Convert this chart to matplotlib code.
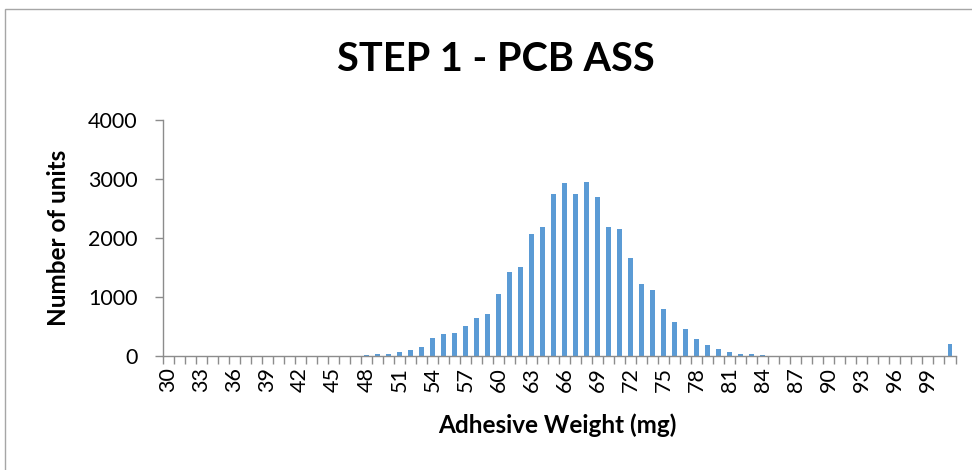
import matplotlib
matplotlib.use("Agg")
import matplotlib.pyplot as plt
from matplotlib.patches import Rectangle

plt.rcParams['font.family'] = ['Lato', 'DejaVu Sans']

# ---- data ----
categories = [str(v) for v in range(30, 102)]
counts = [0] * 16 + [  # 30..45
    2, 8, 12, 28, 35, 65, 110, 145,            # 46..53
    300, 373, 384, 508, 650, 718, 1051, 1424,  # 54..61
    1514, 2074, 2192, 2752, 2932, 2746, 2949,  # 62..68
    2695, 2181, 2147, 1667, 1215, 1113, 802,   # 69..75
    571, 466, 292, 178, 121, 73, 40, 40,       # 76..83
    22, 7, 6, 3, 2, 1,                          # 84..89
    0, 0, 0, 0, 0, 0, 0, 0, 0, 0, 0,            # 90..100
    210,                                        # 101
]
y_ticks = [0, 1000, 2000, 3000, 4000]
title = "STEP 1 - PCB ASS"
x_label = "Adhesive Weight (mg)"
y_label = "Number of units"

W, H = 972, 470
fig = plt.figure(figsize=(W / 100, H / 100), dpi=100)
ax_left, ax_right, ax_top, ax_bot = 162.5, 955.5, 120, 356
ax = fig.add_axes([ax_left / W, 1 - ax_bot / H, (ax_right - ax_left) / W, (ax_bot - ax_top) / H])

idx = list(range(len(categories)))
ax.bar(idx, counts, width=0.45, color="#5B9BD5", edgecolor="none")

ax.set_xlim(-0.5, len(categories) - 0.5)
ax.set_ylim(0, 4000)
ax.set_yticks(y_ticks)
ax.set_yticklabels([str(v) for v in y_ticks])

major = [i for i in idx if i % 3 == 0]
ax.set_xticks(major)
ax.set_xticklabels([categories[i] for i in major], rotation=90, va="top", ha="center")
ax.set_xticks([i - 0.5 for i in range(len(categories) + 1)], minor=True)

axis_color = "#8C8C8C"
for s in ["top", "right"]:
    ax.spines[s].set_visible(False)
for s in ["left", "bottom"]:
    ax.spines[s].set_color(axis_color)
    ax.spines[s].set_linewidth(1.0)

ax.tick_params(axis="x", which="major", length=0, pad=8, labelsize=15.5, colors="black")
ax.tick_params(axis="x", which="minor", length=6, width=1.0, color=axis_color, direction="out")
ax.tick_params(axis="y", which="major", length=6, width=1.0, color=axis_color, pad=12, labelsize=15.5)
ax.tick_params(axis="y", which="minor", length=0)

fig.text(496 / W, 1 - 71 / H, title, ha="center", va="baseline", fontsize=28.5, fontweight="bold")
fig.text(557 / W, 1 - 433 / H, x_label, ha="center", va="baseline", fontsize=17.5, fontweight="bold")
fig.text(59 / W, 1 - 238 / H, y_label, ha="center", va="center", rotation=90, fontsize=17.5, fontweight="bold")

border = Rectangle((5 / W, -0.5), 2.0, 0.5 + 1 - 8.5 / H, transform=fig.transFigure,
                   fill=False, edgecolor="#A6A6A6", linewidth=1.0, clip_on=False)
fig.patches.append(border)

fig.savefig("out.png", dpi=100)
